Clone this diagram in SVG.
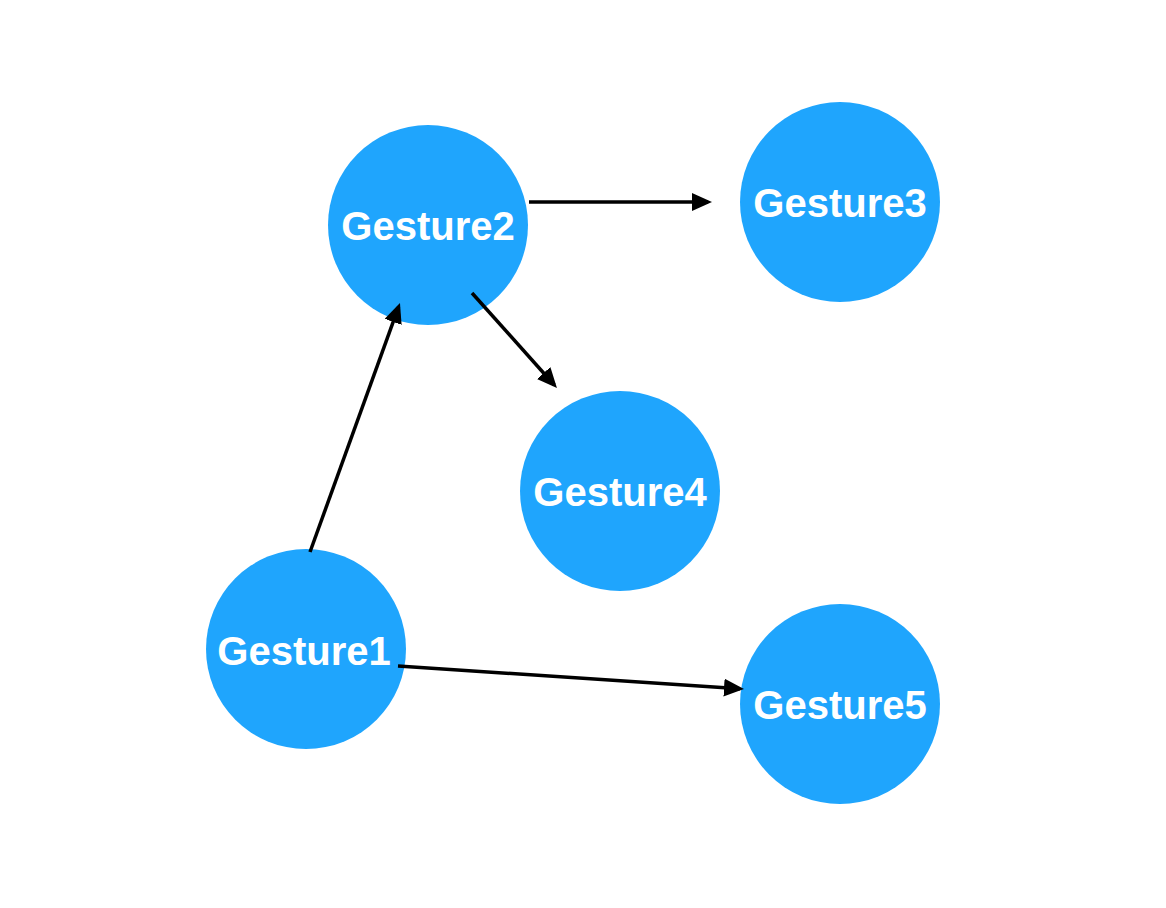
<svg xmlns="http://www.w3.org/2000/svg" width="1166" height="908" viewBox="0 0 1166 908">
<style>
.node{fill:#1fa5fd}
.lbl{fill:#fff;font-family:"Liberation Sans",Arial,sans-serif;font-weight:bold;font-size:40px;text-anchor:middle}
.edge{stroke:#000;stroke-width:3.5;fill:none;marker-end:url(#ah)}
</style>
<defs>
<marker id="ah" markerUnits="userSpaceOnUse" markerWidth="22" markerHeight="20" refX="16" refY="9" orient="auto">
<path d="M0,0 L20,9 L0,18 Z" fill="#000"/>
</marker>
</defs>
<rect width="1166" height="908" fill="#fff"/>
<g id="n2"><circle class="node" cx="428" cy="225" r="100"/><text class="lbl" x="428" y="240">Gesture2</text></g>
<g id="n3"><circle class="node" cx="840" cy="202" r="100"/><text class="lbl" x="840" y="217">Gesture3</text></g>
<g id="n4"><circle class="node" cx="620" cy="491" r="100"/><text class="lbl" x="620" y="506">Gesture4</text></g>
<g id="n1"><circle class="node" cx="306" cy="649" r="100"/><text class="lbl" x="304" y="665">Gesture1</text></g>
<g id="n5"><circle class="node" cx="840" cy="704" r="100"/><text class="lbl" x="840" y="719">Gesture5</text></g>
<g id="edges">
<line class="edge" x1="529" y1="202" x2="708" y2="202"/>
<line class="edge" x1="472" y1="293" x2="554.3" y2="385"/>
<line class="edge" x1="310" y1="552" x2="398.6" y2="306.8"/>
<line class="edge" x1="398" y1="666" x2="740" y2="688.7"/>
</g>
</svg>
